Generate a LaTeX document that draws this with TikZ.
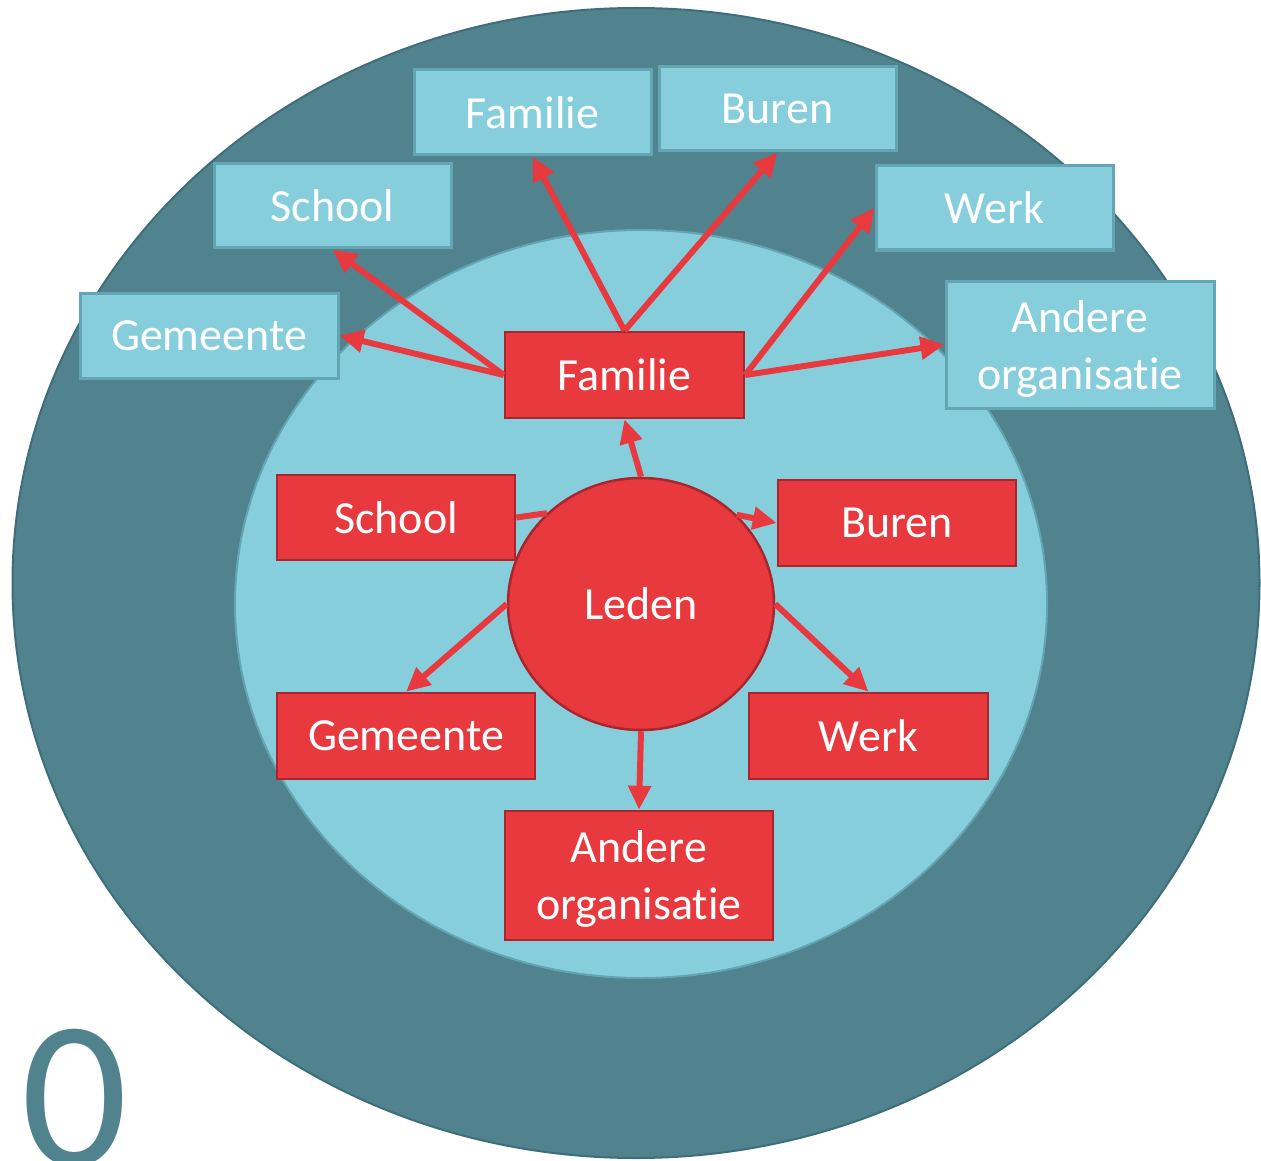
\documentclass[tikz,border=0pt]{standalone}
\usepackage{fontspec}
\setmainfont[Ligatures=NoCommon]{Carlito}
\usetikzlibrary{shapes.geometric,arrows.meta}
\definecolor{tealdark}{RGB}{80,131,142}
\definecolor{tealborder}{RGB}{62,110,122}
\definecolor{lightblue}{RGB}{135,206,221}
\definecolor{lightborder}{RGB}{100,165,180}
\definecolor{redfill}{RGB}{232,58,62}
\definecolor{redborder}{RGB}{170,38,44}
\tikzset{
  redbox/.style={draw=redborder,line width=2.5pt,fill=redfill,text=white,inner sep=0pt,align=center,
    font=\fontsize{46}{57}\selectfont},
  lightbox/.style={draw=lightborder,line width=3pt,fill=lightblue,text=white,inner sep=0pt,align=center,
    font=\fontsize{46}{57}\selectfont},
  boxtext/.style={text=white,inner sep=0pt,align=center,font=\fontsize{46}{57}\selectfont},
  conn/.style={draw=redfill,line width=6pt,-{Triangle[length=24pt,width=22pt]}},
  plainconn/.style={draw=redfill,line width=6pt},
}
\begin{document}
\begin{tikzpicture}[x=1pt,y=-1pt]
\useasboundingbox (0,0) rectangle (1261,1161);
\fill[white] (0,0) rectangle (1261,1161);
% circles
\node[ellipse,draw=tealborder,line width=2pt,fill=tealdark,minimum width=1247pt,minimum height=1150pt,inner sep=0pt] (outer) at (636,583) {};
\node[ellipse,draw=lightborder,line width=2pt,fill=lightblue,minimum width=812pt,minimum height=748pt,inner sep=0pt] (inner) at (641,604) {};
\node[anchor=base,text=tealdark,font=\fontsize{210}{210}\selectfont,inner sep=0pt] (zero) at (75,1165) {0};
% Leden
\node[ellipse,draw=redborder,line width=2.5pt,fill=redfill,minimum width=266pt,minimum height=252pt,inner sep=0pt,text=white,font=\fontsize{46}{57}\selectfont] (leden) at (641,604) {Leden};
% red boxes
\node[redbox,minimum width=239pt,minimum height=86pt] (rFam) at (624.5,375) {Familie};
\node[redbox,minimum width=238pt,minimum height=85pt] (rSchool) at (396,517.5) {School};
\node[redbox,minimum width=238pt,minimum height=86pt] (rBuren) at (897,523) {Buren};
\node[redbox,minimum width=258pt,minimum height=86pt] (rGem) at (406,736) {Gemeente};
\node[redbox,minimum width=239pt,minimum height=86pt] (rWerk) at (868.5,736) {Werk};
\node[redbox,minimum width=268pt,minimum height=129pt] (rAndere) at (639,875.5) {};
\node[boxtext] (rAndereText) at ([yshift=-3pt]rAndere.center) {Andere\\organisatie};
% light boxes
\node[lightbox,minimum width=237pt,minimum height=85pt] (lFam) at (532.5,112.5) {Familie};
\node[lightbox,minimum width=237pt,minimum height=84pt] (lBuren) at (777.5,109) {Buren};
\node[lightbox,minimum width=237pt,minimum height=84pt] (lSchool) at (332.5,206) {School};
\node[lightbox,minimum width=237pt,minimum height=84pt] (lWerk) at (994.5,208) {Werk};
\node[lightbox,minimum width=258pt,minimum height=85pt] (lGem) at (209,335.5) {Gemeente};
\node[lightbox,minimum width=268pt,minimum height=127pt] (lAndere) at (1080,344.5) {};
\node[boxtext] (lAndereText) at ([yshift=-4pt]lAndere.center) {Andere\\organisatie};
% connectors from Leden
\draw[conn] (leden.north) -- (rFam.south);
\draw[plainconn] (leden.136) -- (rSchool.east);
\draw[conn] (leden.43) -- (rBuren.west);
\draw[conn] (leden.west) -- (rGem.north);
\draw[conn] (leden.east) -- (rWerk.north);
\draw[conn] (leden.south) -- (rAndere.north);
% connectors from Familie
\draw[conn] (rFam.west) -- (lGem.east);
\draw[conn] (rFam.west) -- (lSchool.south);
\draw[conn] (rFam.north) -- (lFam.south);
\draw[conn] (rFam.north) -- (lBuren.south);
\draw[conn] (rFam.east) -- (lWerk.west);
\draw[conn] (rFam.east) -- (lAndere.west);
\end{tikzpicture}
\end{document}
